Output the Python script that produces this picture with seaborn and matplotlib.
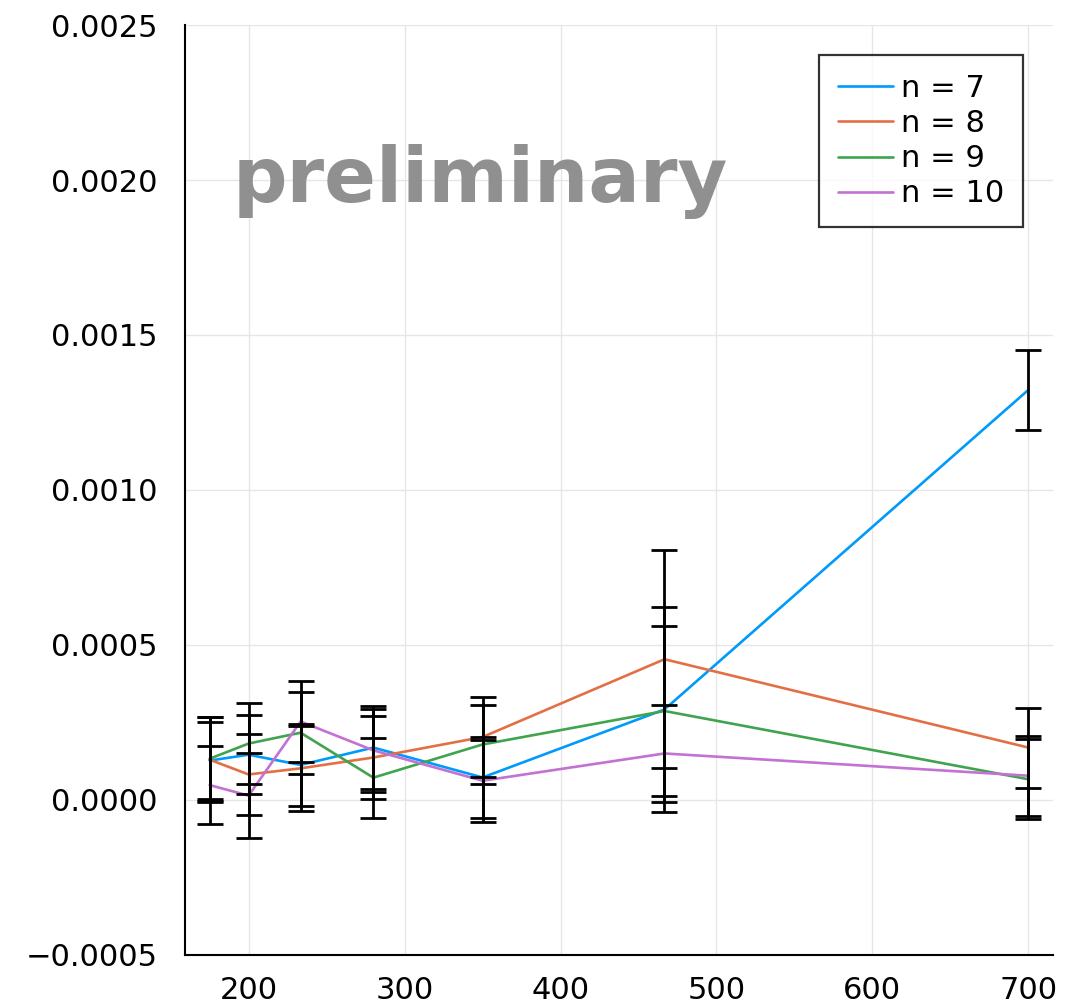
import numpy as np
import pandas as pd

import matplotlib
matplotlib.use("Agg")
import matplotlib.pyplot as plt
import seaborn as sns
from matplotlib.ticker import FuncFormatter, MultipleLocator

# x positions (1400 / k)
x_vals = [175, 200, 233.33, 280, 350, 466.67, 700]

# mean values per series
n7 = [0.000127, 0.000146, 0.000113, 0.000169, 0.0000725, 0.000292, 0.001323]
n8 = [0.000130, 0.0000823, 0.000102, 0.000137, 0.000203, 0.000454, 0.000169]
n9 = [0.000133, 0.000182, 0.000217, 0.000072, 0.000179, 0.000287, 0.0000668]
n10 = [0.000048, 0.000014, 0.000253, 0.000160, 0.000062, 0.000150, 0.0000782]

# error bar half widths
err7 = [0.000125, 0.000127, 0.000131, 0.000134, 0.0001315, 0.000330, 0.000129]
err8 = [0.000137, 0.000130, 0.000137, 0.000134, 0.000128, 0.000352, 0.000129]
err9 = [0.000135, 0.000132, 0.000132, 0.000129, 0.000127, 0.000274, 0.000129]
err10 = [0.000126, 0.000138, 0.000132, 0.000134, 0.000132, 0.000156, 0.000129]

labels = ["n = 7", "n = 8", "n = 9", "n = 10"]
colors = ["#009AFA", "#E36F47", "#3EA44E", "#C371D2"]

series = [n7, n8, n9, n10]
errors = [err7, err8, err9, err10]

# long table for seaborn
rows = []
for lab, ys, es in zip(labels, series, errors):
    for x, y, e in zip(x_vals, ys, es):
        rows.append({"x": x, "y": y, "err": e, "series": lab})
df = pd.DataFrame(rows)

sns.set_style("white")
plt.rcParams['font.family'] = ['DejaVu Sans']
plt.rcParams['text.color'] = 'black'

fig = plt.figure(figsize=(10.74, 10.05), dpi=100)
ax = fig.add_axes([0.1723, 0.0498, 0.8081, 0.9253])

sns.lineplot(
    data=df,
    x="x",
    y="y",
    hue="series",
    hue_order=labels,
    palette=colors,
    estimator=None,
    linewidth=1.9,
    ax=ax,
    zorder=2
)

for lab in labels:
    sub = df[df["series"] == lab]
    ax.errorbar(
        sub["x"],
        sub["y"],
        yerr=sub["err"],
        fmt="none",
        ecolor="black",
        elinewidth=2.0,
        capsize=9.5,
        capthick=2.0,
        zorder=3
    )

ax.set_xlim(159.25, 715.75)
ax.set_ylim(-0.0005, 0.0025)
ax.xaxis.set_major_locator(MultipleLocator(100))
ax.yaxis.set_major_locator(MultipleLocator(0.0005))


def yfmt(v, pos):
    if abs(v) < 1e-12:
        return "0.0000"
    return f"{v:.4f}".replace("-", "\u2212")


ax.yaxis.set_major_formatter(FuncFormatter(yfmt))

ax.grid(True, color="#e6e6e6", linewidth=1.0, zorder=0)
ax.set_axisbelow(True)

for side in ["top", "right"]:
    ax.spines[side].set_visible(False)
for side in ["left", "bottom"]:
    ax.spines[side].set_linewidth(1.5)
    ax.spines[side].set_color("black")

ax.tick_params(
    axis="both",
    direction="in",
    length=8.5,
    width=1.5,
    labelsize=22,
    colors="black"
)
ax.tick_params(axis="y", pad=20)
ax.tick_params(axis="x", pad=15)
ax.set_xlabel("")
ax.set_ylabel("")

ax.text(
    190,
    0.001929,
    "preliminary",
    fontsize=55,
    fontweight="bold",
    color="#909090",
    ha="left",
    va="baseline",
    zorder=1
)

handles, _ = ax.get_legend_handles_labels()
leg = ax.legend(
    handles=handles[:4],
    labels=labels,
    loc="upper right",
    bbox_to_anchor=(0.9654, 0.9677),
    borderaxespad=0,
    fontsize=22,
    frameon=True,
    fancybox=False,
    edgecolor="black",
    handlelength=1.8,
    handletextpad=0.25,
    labelspacing=0.2,
    borderpad=0.62
)
leg.get_frame().set_linewidth(1.6)
leg.get_frame().set_edgecolor("black")
for t in leg.get_texts():
    t.set_color("black")
for line in leg.get_lines():
    line.set_linewidth(1.9)

plt.savefig("out.png", dpi=100)
plt.close()
